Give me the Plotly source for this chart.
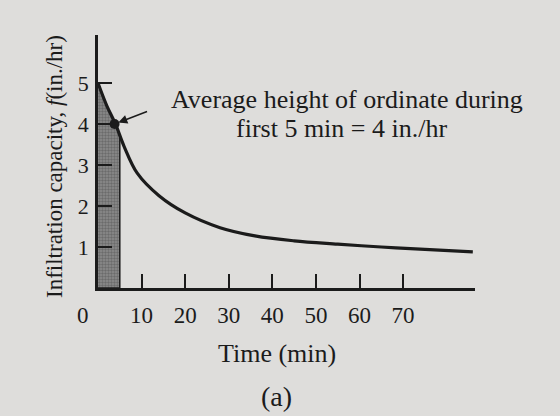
import plotly.graph_objects as go

# Data
time_min = [0, 2, 4, 6, 9, 14, 20, 28, 36, 45, 55, 65, 75, 86]
infil = [5.0, 4.45, 4.0, 3.45, 2.8, 2.25, 1.83, 1.47, 1.27, 1.15, 1.07, 1.0, 0.94, 0.88]
shade_t = [0, 2, 4, 5]
shade_f = [5.0, 4.45, 4.0, 3.7]
avg_point_t = [3.8]
avg_point_f = [4.0]
x_ticks = [10, 20, 30, 40, 50, 60, 70]
y_ticks = [1, 2, 3, 4, 5]

FONT = "Liberation Serif"
INK = "#1b1b1b"
BG = "#dedddb"

fig = go.Figure()
fig.add_trace(go.Scatter(
    x=shade_t + [shade_t[-1], 0], y=shade_f + [0, 0],
    mode="lines", line=dict(color=INK, width=1.5),
    fill="toself", fillcolor="#7a7a7a",
    fillpattern=dict(shape=".", size=3, solidity=0.5, bgcolor="#8c8c8c", fgcolor="#4a4a4a"),
    hoverinfo="skip", showlegend=False))
fig.add_trace(go.Scatter(
    x=time_min, y=infil, mode="lines", line=dict(color=INK, width=3.2, shape="spline"),
    showlegend=False))
fig.add_trace(go.Scatter(
    x=avg_point_t, y=avg_point_f, mode="markers",
    marker=dict(color=INK, size=10), showlegend=False))

fig.update_xaxes(range=[0, 86.5], tickvals=x_ticks, ticks="inside", ticklen=14, tickwidth=2,
                 tickcolor=INK, showline=True, linecolor=INK, linewidth=2.5, showgrid=False,
                 zeroline=False, ticklabelstandoff=5,
                 tickfont=dict(family=FONT, size=23, color=INK))
fig.update_yaxes(range=[0, 6.17], tickvals=y_ticks, ticks="inside", ticklen=14, tickwidth=2,
                 tickcolor=INK, showline=True, linecolor=INK, linewidth=2.5, showgrid=False,
                 zeroline=False, ticklabelstandoff=2,
                 tickfont=dict(family=FONT, size=22, color=INK))

ann = [
    dict(x=0, y=0, xref="x", yref="y", text="0", showarrow=False, xshift=-15, yshift=-27,
         font=dict(family=FONT, size=23, color=INK)),
    dict(x=avg_point_t[0], y=avg_point_f[0], xref="x", yref="y", text="", showarrow=True,
         arrowhead=2, arrowsize=1.2, arrowwidth=1.5, arrowcolor=INK, ax=34, ay=-13,
         standoff=4),
    dict(x=347, y=100, xref="paper", yref="paper", text="Average height of ordinate during",
         showarrow=False, font=dict(family=FONT, size=26, color=INK)),
    dict(x=341, y=128, xref="paper", yref="paper", text="first 5 min = 4 in./hr",
         showarrow=False, font=dict(family=FONT, size=26, color=INK)),
    dict(x=277, y=353, xref="paper", yref="paper", text="Time (min)",
         showarrow=False, font=dict(family=FONT, size=26, color=INK)),
    dict(x=276, y=396, xref="paper", yref="paper", text="(a)",
         showarrow=False, font=dict(family=FONT, size=28, color=INK)),
    dict(x=54, y=167, xref="paper", yref="paper",
         text="Infiltration capacity, <i>f</i>(in./hr)", textangle=-90,
         showarrow=False, font=dict(family=FONT, size=23, color=INK)),
]
# convert pixel positions (from top-left) for paper-ref annotations
L, R, T, B = 98, 85, 35, 128
W, H = 560, 416
pw, ph = W - L - R, H - T - B
for a in ann:
    if a["xref"] == "paper":
        a["x"] = (a["x"] - L) / pw
        a["y"] = (H - B - a["y"]) / ph
        a["xanchor"] = "center"
        a["yanchor"] = "middle"

fig.update_layout(width=W, height=H, margin=dict(l=L, r=R, t=T, b=B),
                  paper_bgcolor=BG, plot_bgcolor=BG, annotations=ann)
fig.write_html("out.html")
